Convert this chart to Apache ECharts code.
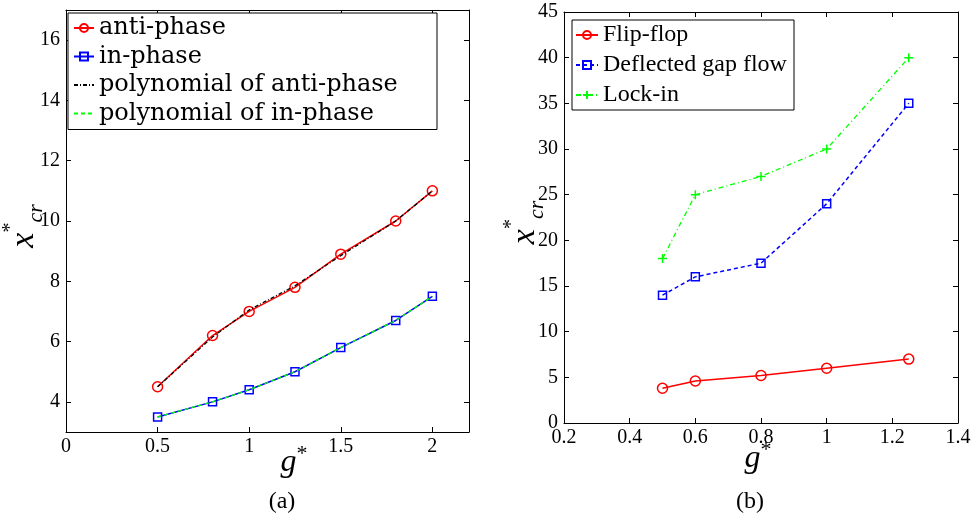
<!DOCTYPE html>
<html><head><meta charset="utf-8">
<script src="https://cdn.jsdelivr.net/npm/echarts@6/dist/echarts.min.js"></script>
<style>html,body{margin:0;padding:0;background:#fff}#c{width:974px;height:514px}</style>
</head><body><div id="c"></div><script>
// ---- data (a) ----
const gA = [0.5, 0.8, 1, 1.25, 1.5, 1.8, 2];
const antiPhase = [4.5, 6.2, 7.0, 7.8, 8.9, 10.0, 11.0];
const inPhase = [3.5, 4.0, 4.4, 5.0, 5.8, 6.7, 7.5];
const polyAnti = [4.5, 6.15, 7.05, 7.85, 8.85, 10.0, 11.0];
const polyIn = [3.5, 4.0, 4.4, 5.0, 5.8, 6.7, 7.5];
const xTicksA = [0, 0.5, 1, 1.5, 2];
const yTicksA = [4, 6, 8, 10, 12, 14, 16];
// ---- data (b) ----
const gB = [0.5, 0.6, 0.8, 1.0, 1.25];
const flipFlop = [3.8, 4.6, 5.2, 6.0, 7.0];
const deflected = [14, 16, 17.5, 24, 35];
const lockIn = [18, 25, 27, 30, 40];
const xTicksB = [0.2, 0.4, 0.6, 0.8, 1, 1.2, 1.4];
const yTicksB = [0, 5, 10, 15, 20, 25, 30, 35, 40, 45];

const pairs = (xs, ys) => xs.map((x, i) => [x, ys[i]]);
const SERIF = 'Liberation Serif';

function axis(kind, grid, min, max, ticks, position, showLabel, extra) {
  const a = {
    type: 'value', gridIndex: grid, min: min, max: max, position: position,
    nameMoveOverlap: false,
    axisLine: { show: true, onZero: false, lineStyle: { color: '#000', width: 1 } },
    axisTick: { show: true, inside: true, length: 5, customValues: ticks, lineStyle: { color: '#000', width: 1 } },
    axisLabel: { show: showLabel, customValues: ticks, color: '#000', fontFamily: SERIF, fontSize: 20,
      margin: kind === 'x' ? 5 : 6 },
    splitLine: { show: false }
  };
  return Object.assign(a, extra || {});
}

const yName = {
  nameLocation: 'middle', nameRotate: 90,
  name: '{x|x}{sup|*}{sub|cr}',
  nameTextStyle: {
    fontFamily: SERIF, fontSize: 22, color: '#000',
    padding: [0, 10, 0, 0],
    rich: {
      x: { fontFamily: SERIF, fontStyle: 'italic', fontSize: 34, lineHeight: 46, verticalAlign: 'middle', color: '#000' },
      sup: { fontFamily: SERIF, fontSize: 20, lineHeight: 46, verticalAlign: 'top', color: '#000' },
      sub: { fontFamily: SERIF, fontStyle: 'italic', fontSize: 22, lineHeight: 26, verticalAlign: 'bottom', color: '#000' }
    }
  }
};
function gName(pad) {
  return {
    nameLocation: 'middle', name: '{g|g}{sup|*}',
    nameTextStyle: {
      fontFamily: SERIF, fontSize: 22, color: '#000',
      padding: pad,
      rich: {
        g: { fontFamily: SERIF, fontStyle: 'italic', fontSize: 32, lineHeight: 40, verticalAlign: 'middle', color: '#000' },
        sup: { fontFamily: SERIF, fontSize: 22, lineHeight: 30, verticalAlign: 'top', color: '#000' }
      }
    }
  };
}

const option = {
  backgroundColor: '#fff',
  animation: false,
  grid: [
    { left: 65, top: 10, width: 404, height: 422 },
    { left: 564, top: 12, width: 394, height: 411 }
  ],
  xAxis: [
    axis('x', 0, 0, 2.2, xTicksA, 'bottom', true, Object.assign({ nameGap: 11 }, gName([0, 0, 0, 53]))),
    axis('x', 0, 0, 2.2, xTicksA, 'top', false),
    axis('x', 1, 0.2, 1.4, xTicksB, 'bottom', true, Object.assign({ nameGap: 16 }, gName([0, 6, 0, 0]))),
    axis('x', 1, 0.2, 1.4, xTicksB, 'top', false)
  ],
  yAxis: [
    axis('y', 0, 3, 17, yTicksA, 'left', true, Object.assign({ nameGap: 19 }, yName)),
    axis('y', 0, 3, 17, yTicksA, 'right', false),
    axis('y', 1, 0, 45, yTicksB, 'left', true, Object.assign({ nameGap: 16 }, yName)),
    axis('y', 1, 0, 45, yTicksB, 'right', false)
  ],
  legend: [
    {
      left: 68, top: 13, orient: 'vertical', selectedMode: false,
      data: ['anti-phase', 'in-phase', 'polynomial of anti-phase', 'polynomial of in-phase'],
      backgroundColor: '#fff', borderColor: '#000', borderWidth: 1, borderRadius: 0,
      padding: [2, 5, 3, 5], itemGap: 2.5, itemWidth: 20, itemHeight: 10,
      textStyle: { fontFamily: 'DejaVu Serif', fontSize: 24, color: '#000', lineHeight: 26, width: 333 }
    },
    {
      left: 572, top: 20, orient: 'vertical', selectedMode: false,
      data: ['Flip-flop', 'Deflected gap flow', 'Lock-in'],
      backgroundColor: '#fff', borderColor: '#000', borderWidth: 1, borderRadius: 0,
      padding: [2, 3, 2, 3], itemGap: 4, itemWidth: 22, itemHeight: 10,
      textStyle: { fontFamily: SERIF, fontSize: 24, color: '#000', lineHeight: 26, width: 188 }
    }
  ],
  graphic: [
    { type: 'text', x: 282, y: 502, style: { text: '(a)', font: '24px "Liberation Serif"', fill: '#000', align: 'center', verticalAlign: 'middle' } },
    { type: 'text', x: 750, y: 502, style: { text: '(b)', font: '24px "Liberation Serif"', fill: '#000', align: 'center', verticalAlign: 'middle' } }
  ],
  series: [
    { name: 'anti-phase', type: 'line', xAxisIndex: 0, yAxisIndex: 0, data: pairs(gA, antiPhase),
      symbol: 'circle', symbolSize: 10, lineStyle: { color: '#ff0000', width: 1.5 },
      itemStyle: { color: 'rgba(255,255,255,0)', borderColor: '#ff0000', borderWidth: 1.5 }, z: 2 },
    { name: 'in-phase', type: 'line', xAxisIndex: 0, yAxisIndex: 0, data: pairs(gA, inPhase),
      symbol: 'rect', symbolSize: 8, lineStyle: { color: '#0000ff', width: 1.5 },
      itemStyle: { color: 'rgba(255,255,255,0)', borderColor: '#0000ff', borderWidth: 1.5 }, z: 2 },
    { name: 'polynomial of anti-phase', type: 'line', xAxisIndex: 0, yAxisIndex: 0, data: pairs(gA, polyAnti),
      symbol: 'circle', showSymbol: false, lineStyle: { color: '#000', width: 1.3, type: [4, 2, 1, 2] },
      itemStyle: { color: 'rgba(0,0,0,0)', borderColor: 'rgba(0,0,0,0)' }, z: 3 },
    { name: 'polynomial of in-phase', type: 'line', xAxisIndex: 0, yAxisIndex: 0, data: pairs(gA, polyIn),
      symbol: 'circle', showSymbol: false, lineStyle: { color: '#00ff00', width: 1.3, type: [4, 3] },
      itemStyle: { color: 'rgba(0,0,0,0)', borderColor: 'rgba(0,0,0,0)' }, z: 3 },
    { name: 'Flip-flop', type: 'line', xAxisIndex: 2, yAxisIndex: 2, data: pairs(gB, flipFlop),
      symbol: 'circle', symbolSize: 10, lineStyle: { color: '#ff0000', width: 1.5 },
      itemStyle: { color: 'rgba(255,255,255,0)', borderColor: '#ff0000', borderWidth: 1.5 } },
    { name: 'Deflected gap flow', type: 'line', xAxisIndex: 2, yAxisIndex: 2, data: pairs(gB, deflected),
      symbol: 'rect', symbolSize: 8, lineStyle: { color: '#0000ff', width: 1.5, type: [4, 3] },
      itemStyle: { color: 'rgba(255,255,255,0)', borderColor: '#0000ff', borderWidth: 1.5 } },
    { name: 'Lock-in', type: 'line', xAxisIndex: 2, yAxisIndex: 2, data: pairs(gB, lockIn),
      symbol: 'path://M0,-5L0,5M-5,0L5,0', symbolSize: 9, lineStyle: { color: '#00ff00', width: 1.3, type: [5, 3, 1, 3] },
      itemStyle: { color: 'rgba(0,0,0,0)', borderColor: '#00ff00', borderWidth: 1.5 } }
  ]
};
const chart = echarts.init(document.getElementById('c'), null, { renderer: 'canvas' });
chart.setOption(option);
</script></body></html>
